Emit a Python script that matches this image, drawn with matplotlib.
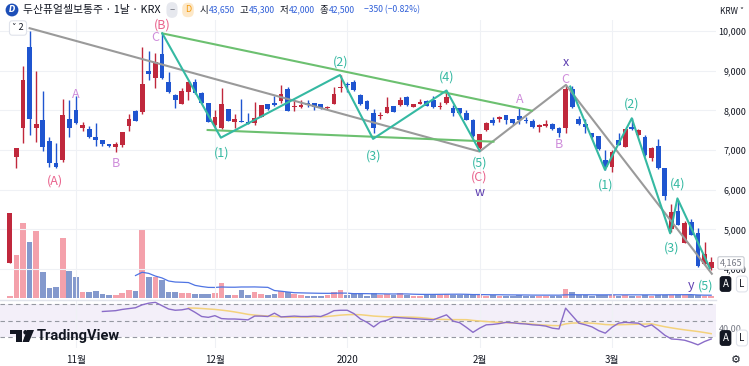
import numpy as np
import pandas as pd
import matplotlib
matplotlib.use("Agg")
import matplotlib.pyplot as plt
from matplotlib.patches import Rectangle, Polygon

plt.rcParams['font.family'] = ['Noto Sans CJK KR', 'DejaVu Sans']

# daily candles, bar index -1 .. 105 (2019-10-18 .. 2020-03-23)
opens = [4150, 6830, 7550, 9590, 7550, 7760, 7230, 6670, 6750, 7770, 8010, 7550, 7520, 7320, 7250, 7150,
         7070, 7130, 7600, 7980, 7970, 8990, 8810, 9410, 8710, 8390, 8160, 8450, 8720, 8430, 8180, 7630,
         7550, 8030, 7710, 7740, 7710, 7670, 7840, 8160, 8190, 8240, 8530, 8080, 8080, 8180, 8180, 8160,
         8050, 8160, 8560, 8660, 8710, 8390, 8240, 7940, 7860, 7930, 8110, 8130, 8340, 8090, 8160, 8240,
         8260, 8080, 8180, 8050, 8050, 7920, 7760, 7040, 7500, 7760, 7770, 7870, 7770, 7860, 7760, 7740,
         7590, 7610, 7660, 7550, 7550, 8530, 7770, 7660, 7420, 7350, 6750, 6580, 7240, 7080, 7590, 7380,
         7340, 6790, 7100, 6540, 5000, 5470, 4660, 5190, 4920, 4130, 4020]
highs = [5410, 7050, 9120, 10000, 9000, 8490, 7340, 7170, 8290, 8260, 8350, 7710, 7600, 7670, 7260, 7160,
         7210, 7460, 7910, 8000, 9600, 9500, 9450, 9940, 8970, 8400, 8560, 8730, 8780, 8450, 8190, 8000,
         8560, 8040, 7900, 8290, 7940, 8220, 8140, 8170, 8360, 8640, 8600, 8260, 8260, 8260, 8190, 8170,
         8100, 8600, 8890, 8720, 8760, 8400, 8250, 8030, 7970, 8330, 8120, 8340, 8360, 8170, 8280, 8250,
         8360, 8220, 8500, 8130, 8060, 8010, 7770, 7410, 7700, 7840, 7860, 7880, 7780, 8050, 7820, 7780,
         7660, 7760, 7670, 7590, 8610, 8610, 7860, 7770, 7430, 7360, 7000, 7000, 7420, 7530, 7800, 7520,
         7370, 7080, 7270, 6550, 5640, 5720, 5220, 5250, 5030, 4690, 4290]
lows = [4140, 6550, 7170, 7380, 7210, 6980, 6580, 6550, 6700, 7320, 7650, 7490, 7300, 7100, 7100, 7080,
        6960, 7070, 7480, 7720, 7910, 8770, 8560, 8800, 8430, 8050, 8150, 8260, 8420, 8150, 7700, 7550,
        7540, 7730, 7560, 7700, 7650, 7630, 7830, 8020, 8120, 8190, 7980, 7990, 8070, 8080, 8010, 8040,
        8040, 8150, 8470, 8470, 8490, 8130, 8000, 7420, 7770, 7920, 7960, 8120, 8120, 8080, 8150, 8100,
        8070, 8030, 8170, 7860, 7910, 7750, 7340, 7030, 7490, 7620, 7700, 7660, 7640, 7660, 7680, 7550,
        7460, 7590, 7500, 7340, 7420, 8070, 7630, 7420, 7300, 7000, 6500, 6450, 7120, 7070, 7500, 7350,
        6860, 6730, 6530, 5730, 4940, 5100, 4650, 4850, 4040, 4100, 3980]
closes = [5400, 7040, 8760, 7770, 7650, 7070, 6670, 6570, 7880, 7550, 7690, 7630, 7320, 7240, 7140, 7100,
          7150, 7450, 7780, 7740, 8660, 8920, 9230, 8810, 8450, 8260, 8490, 8720, 8430, 8190, 7710, 7840,
          8160, 7740, 7780, 7710, 7660, 7800, 8130, 8030, 8130, 8410, 7990, 8110, 8130, 8130, 8080, 8050,
          8090, 8410, 8600, 8640, 8500, 8160, 8030, 7550, 7880, 8080, 7970, 8260, 8130, 8160, 8220, 8110,
          8080, 8110, 8330, 7940, 7920, 7760, 7350, 7400, 7690, 7680, 7840, 7760, 7670, 7760, 7740, 7590,
          7630, 7650, 7520, 7420, 8530, 8080, 7660, 7590, 7340, 7020, 6580, 6960, 7130, 7520, 7520, 7500,
          6870, 7040, 6540, 5840, 5440, 5110, 5170, 4860, 4080, 4380, 4165]
volumes = [23, 433, 750, 557, 673, 263, 97, 107, 600, 273, 213, 63, 57, 73, 40, 33,
           33, 50, 83, 73, 680, 207, 213, 180, 63, 57, 50, 47, 40, 40, 40, 50,
           150, 33, 33, 80, 33, 63, 40, 30, 40, 73, 57, 40, 30, 23, 23, 23,
           30, 57, 80, 30, 47, 47, 23, 50, 30, 40, 30, 47, 30, 23, 23, 33,
           33, 33, 40, 33, 33, 33, 30, 30, 23, 30, 25, 25, 25, 30, 25, 25,
           25, 20, 25, 25, 95, 60, 30, 30, 25, 30, 30, 30, 20, 30, 25, 20,
           30, 25, 30, 35, 30, 30, 30, 35, 30, 25, 20]  # x10k shares

rsi_first = 13
rsi = [61, 61.5, 62, 63.5, 64.5, 65.5, 69, 71, 72, 68, 64, 62.5, 63, 64.5, 60, 55, 54, 56, 52.5, 52,
       52, 51.5, 51, 55.5, 55.5, 55, 59, 54.5, 55, 55.5, 55, 55, 55.5, 55, 58, 62, 62.5, 62.5, 58.5, 52,
       48, 42.5, 48.5, 50.5, 54, 53.5, 53, 52.5, 52, 51.5, 51, 54, 57, 49.5, 47.5, 42, 36, 41, 45, 45.5,
       46.5, 48, 47.5, 46.5, 46, 45, 44.5, 43.5, 41, 40, 65, 56, 47, 45, 42.5, 38, 35, 42, 47, 48,
       47.5, 47, 42.5, 45, 39, 32.5, 28, 27.5, 26.5, 24, 21, 25, 28]

month_pos = [9, 30, 50, 70, 90]
month_labels = ['11월', '12월', '2020', '2월', '3월']
price_ticks = [4000, 5000, 6000, 7000, 8000, 9000, 10000]

# elliott wave drawings (bar index, price)
gray_x = [2, 70, 83.05, 105.1]
gray_y = [10070, 6960, 8640, 3880]
green_up_x = [22.05, 77.9]
green_up_y = [9940, 7990]
green_lo_x = [28.9, 72.1]
green_lo_y = [7504, 7210]
teal1_x = [22.05, 30.9, 48.9, 53.9, 65.0, 70.0]
teal1_y = [9940, 7310, 8890, 7280, 8500, 6980]
teal2_x = [83.7, 88.95, 93.0, 98.8, 99.9, 104.8]
teal2_y = [8600, 6500, 7800, 4900, 5780, 4020]

PINK, LILAC, TEAL, PURP = '#e9628c', '#cf8ddb', '#35b9a2', '#5e3fb0'
wave_labels = [
    ('(A)', 5.8, 6220, PINK), ('A', 9.0, 8390, LILAC), ('B', 15.0, 6650, LILAC),
    ('(B)', 22.05, 10140, PINK), ('C', 20.95, 9840, LILAC),
    ('(1)', 31.0, 6920, TEAL), ('(2)', 49.0, 9226, TEAL), ('(3)', 54.0, 6857, TEAL),
    ('(4)', 65.0, 8848, TEAL), ('(5)', 70.0, 6680, TEAL), ('(C)', 70.0, 6327, PINK),
    ('w', 70.0, 5930, PURP), ('A', 76.0, 8278, LILAC), ('B', 82.0, 7126, LILAC),
    ('C', 83.0, 8765, LILAC), ('x', 83.0, 9200, PURP),
    ('(1)', 89.0, 6118, TEAL), ('(2)', 93.0, 8152, TEAL), ('(3)', 99.0, 4522, TEAL),
    ('(4)', 100.0, 6143, TEAL), ('(5)', 104.1, 3571, TEAL), ('y', 101.9, 3590, PURP),
]

W, H = 749, 366
fig = plt.figure(figsize=(W / 100, H / 100), dpi=100)


def fx(px):
    return px / W


def fy(py):
    return 1 - py / H


UP, DOWN = '#c0283c', '#1f55d0'
VUP, VDOWN = '#f4a1ab', '#8499cd'
GRID = '#eff1f5'
XLIM = (-2.48, 105.73)

# ---- price pane (with volume overlay)
ax = fig.add_axes([0, fy(298), fx(716), (298 - 20) / H])
axv = ax.twinx()
ax.set_zorder(axv.get_zorder() + 1)
ax.patch.set_visible(False)

xs = np.arange(-1, len(opens) - 1)
vcol = [VUP if c >= o else VDOWN for o, c in zip(opens, closes)]
axv.bar(xs, volumes, width=0.86, color=vcol, linewidth=0)
vma = pd.Series(volumes).rolling(20).mean()
axv.plot(xs, vma, color='#4f74e3', lw=0.9)
axv.set_ylim(0, 2780)
axv.axis('off')

for x, o, h, l, c in zip(xs, opens, highs, lows, closes):
    col = UP if c >= o else DOWN
    ax.vlines(x, l, h, color=col, lw=1, zorder=3)
    ax.add_patch(Rectangle((x - 0.36, min(o, c)), 0.72, max(abs(c - o), 25),
                           facecolor=col, edgecolor='none', zorder=4))

ax.plot(gray_x, gray_y, color='#9a9a9a', lw=1.5, zorder=5)
ax.plot(green_up_x, green_up_y, color='#6cc070', lw=1.5, zorder=5)
ax.plot(green_lo_x, green_lo_y, color='#6cc070', lw=1.5, zorder=5)
ax.plot(teal1_x, teal1_y, color=TEAL, lw=1.5, zorder=6)
ax.plot(teal2_x, teal2_y, color=TEAL, lw=1.5, zorder=6)
for s, x, y, col in wave_labels:
    ax.text(x, y, s, color=col, fontsize=9, ha='center', va='center', zorder=8, clip_on=False)

ax.set_xlim(*XLIM)
ax.set_ylim(3269, 10277)
ax.set_yticks(price_ticks)
ax.set_yticklabels([f'{p:,}' for p in price_ticks])
ax.yaxis.tick_right()
ax.tick_params(axis='y', length=0, pad=22, labelsize=6.5, labelcolor='#131722')
for lbl in ax.get_yticklabels():
    lbl.set_horizontalalignment('right')
ax.set_xticks(month_pos)
ax.tick_params(axis='x', length=0, labelbottom=False)
ax.grid(True, color=GRID, lw=0.8)
for sp in ax.spines.values():
    sp.set_visible(False)

# ---- RSI pane
ar = fig.add_axes([0, fy(348), fx(716), (348 - 300) / H])
rx = np.arange(rsi_first, rsi_first + len(rsi))
rma = pd.Series(rsi).rolling(14).mean()
ar.axhspan(30, 70, color='#7e57c2', alpha=0.09, lw=0)
for lv in (30, 50, 70):
    ar.axhline(lv, color='#9598a1', lw=0.8, ls=(0, (4, 3)))
ar.plot(rx, rma, color='#f3d27c', lw=1.1)
ar.plot(rx, rsi, color='#8a6cc8', lw=1.0)
ar.set_xlim(*XLIM)
ar.set_ylim(17.2, 74.8)
ar.set_yticks([])
ar.set_xticks(month_pos)
ar.set_xticklabels(month_labels)
ar.tick_params(axis='x', length=0, pad=5, labelsize=7, labelcolor='#131722')
ar.grid(True, axis='x', color=GRID, lw=0.8)
for sp in ar.spines.values():
    sp.set_visible(False)

fig.add_artist(plt.Line2D([0, fx(716)], [fy(299.5), fy(299.5)], color='#e0e3eb', lw=1))

# ---- header
fig.text(fx(12), fy(10), 'D', fontsize=5.5, color='white', fontweight='bold', ha='center', va='center',
         family='DejaVu Sans', style='italic',
         bbox=dict(boxstyle='circle,pad=0.25', fc='#1d4fb8', ec='none'))
fig.text(fx(23), fy(10), '두산퓨얼셀보통주 · 1날 · KRX', fontsize=7.8, color='#131722', va='center')
fig.text(fx(172), fy(10), '–', fontsize=7, color='#787b86', ha='center', va='center',
         bbox=dict(boxstyle='round,pad=0.3,rounding_size=0.6', fc='#e6e8ee', ec='none'))
fig.text(fx(188), fy(10), 'D', fontsize=6.5, color='#f39c12', ha='center', va='center',
         bbox=dict(boxstyle='round,pad=0.3,rounding_size=0.6', fc='#fde8c8', ec='none'))
ohlc = [(200, '시', '#131722'), (208.5, '43,650', '#2f5fd8'), (240, '고', '#131722'), (248.5, '45,300', '#2f5fd8'),
        (280, '저', '#131722'), (288.5, '42,000', '#2f5fd8'), (320, '종', '#131722'), (328.5, '42,500', '#2f5fd8'),
        (364, '−350 (−0.82%)', '#2f5fd8')]
for px, s, col in ohlc:
    size = 6.8 if s in '시고저종' else 6.2
    fig.text(fx(px), fy(10), s, fontsize=size, color=col, va='center')
fig.text(fx(732), fy(11), 'KRW ˅', fontsize=6, color='#131722', ha='center', va='center')
fig.text(fx(18), fy(28), '˅ 2', fontsize=6.5, color='#131722', ha='center', va='center',
         bbox=dict(boxstyle='round,pad=0.3', fc='white', ec='#e0e3eb', lw=0.8))

# ---- right side widgets
fig.text(fx(731), fy(263), '4,165', fontsize=6.5, color='#787b86', ha='center', va='center',
         bbox=dict(boxstyle='round,pad=0.2', fc='white', ec='#c9ccd3', lw=0.8))
fig.text(fx(730), fy(329), '40.00', fontsize=6.5, color='#787b86', ha='center', va='center')
for yy in (284, 338):
    fig.text(fx(725.5), fy(yy), 'A', fontsize=7, color='white', ha='center', va='center',
             bbox=dict(boxstyle='round,pad=0.3', fc='#131722', ec='none'))
    fig.text(fx(742), fy(yy), 'L', fontsize=7, color='#131722', ha='center', va='center',
             bbox=dict(boxstyle='round,pad=0.3', fc='white', ec='#e0e3eb', lw=0.8))
fig.text(fx(736), fy(360), '⚙', fontsize=8, color='#131722', ha='center', va='center',
         family='DejaVu Sans')

# ---- TradingView logo
logo = [
    [(10, 330), (22, 330), (22, 342), (16, 342), (16, 334), (10, 334)],
    [(27, 330), (34, 330), (29, 342), (22.5, 342)],
]
for pts in logo:
    fig.add_artist(Polygon([(fx(a), fy(b)) for a, b in pts], closed=True, fc='#131722', ec='none',
                           transform=fig.transFigure))
fig.text(fx(25), fy(332), '●', fontsize=4, color='#131722', ha='center', va='center', family='DejaVu Sans')
fig.text(fx(37), fy(336), 'TradingView', fontsize=10.5, color='#131722', va='center',
         family='Roboto', fontweight='bold')

fig.savefig('out.png', dpi=100)
